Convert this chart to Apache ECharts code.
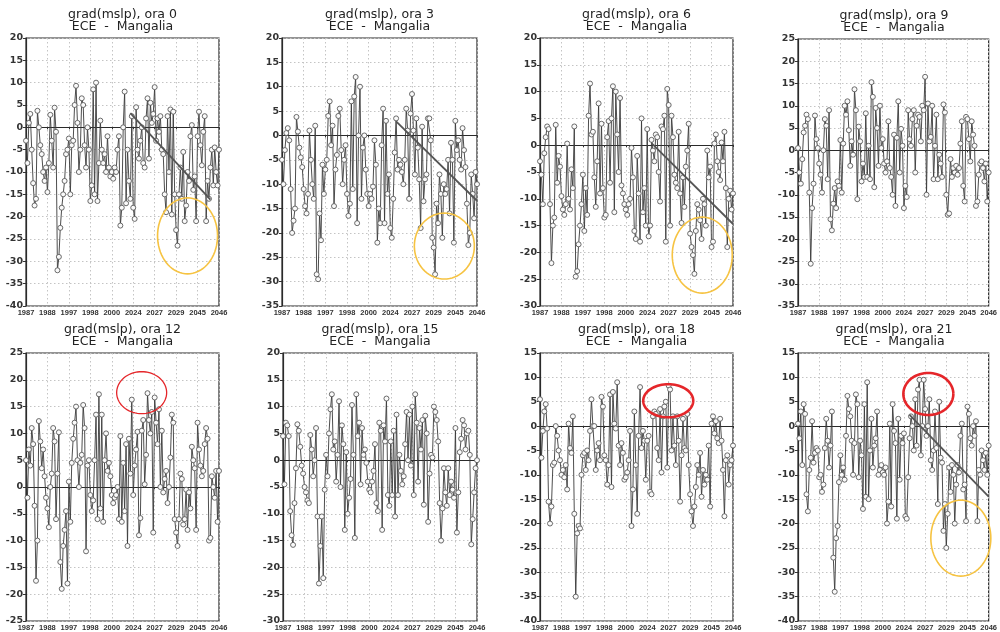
<!DOCTYPE html>
<html><head><meta charset="utf-8">
<script src="https://cdn.jsdelivr.net/npm/echarts@6/dist/echarts.min.js"></script>
<style>html,body{margin:0;padding:0;background:#fff}#c{width:1000px;height:632px}</style>
</head><body><div id="c"></div><script>
const xLabels = ['1987','1988','1997','1998','2000','2024','2027','2029','2045','2046'];
const titles = ['grad(mslp), ora 0','grad(mslp), ora 3','grad(mslp), ora 6','grad(mslp), ora 9',
  'grad(mslp), ora 12','grad(mslp), ora 15','grad(mslp), ora 18','grad(mslp), ora 21'];
const subtitle = 'ECE  -  Mangalia';
const yMin = [-40,-35,-30,-35,-25,-30,-40,-40];
const yMax = [20,20,20,25,25,20,15,15];

const ora0 = [-3,-8,1,3,-5,-12.5,-17.5,-16,3.7,0,-4,-6,-10,-12,-9,
 -14.5,-8,2.8,-3,-9,4.4,-1,-32,-29,-22.5,-18,-15,-12,-6,-5,
 -2.5,-15,-4,-3,5,9.3,1,-10,-5,6.5,5,-4,-9,0,-5,
 -16.5,-13,8.5,-15,10,-16.5,-8,1.5,-5,-8,-6,-10,-2,-9,-11,
 -10,-11.5,-9,-10,-5,-2,-22,-18,0,8,-17,-5,-12,-16,2.5,
 -18,-20.5,4.5,-5,-7,-3,0,-8,-9,2,6.5,-7,5.5,1,3,
 9,-3,2,-1,2.5,-5,-6,-15,-19,2.5,-10,4,-19.5,3.5,-15,
 -23,-26.5,-15,-9,-16,-5.5,-21,-17.5,-10,-12,-2,0.5,-14,-11,-21,
 -2,3.5,-4,-8.5,-1,2.5,-21,-12,-16,-9,-5,-13,-4.5,-10,-13,-5];
const ora3 = [-5,-10,-3,0.5,1.5,-1,-11,-20,-17.5,-15,3.8,0.8,-2.5,-4.5,-6.5,
 -11,-14.5,-16,-12,1,-5,-10,-13,2,-28.5,-29.5,-16,-21.5,-6,-12,
 -7,-5,4,7,-2,2,-14.5,-7,-4,4,5.5,-3,-10,-5,-2,
 -12,-16.5,-14,7,-11,8,12,-18,0,10,-13,-2.5,0,-7,-12,
 -14.5,-12,-13,-10.5,-1,-6,-22,-15,-18,-2,5.5,-18,3,-12,-8,
 -19,-21,-13,-3.5,3.5,-7,-5,-6,-7.5,-10,-5,5.5,1,-13,4.5,
 8.5,1,-8,3.5,-2.5,-9,-19,1.8,-13.5,-9,-8,3.5,3.5,-1,-21,
 -23,-28.5,-14,-18,-8,-12,-21,-10,-12,-11,-5,-16,-1.5,-5,-22,
 3,-3,-1,-5,-7,1.5,-3,-6.5,-14,-22.5,-20,-8,-12,-17,-7.5,-10];
const ora6 = [-3,-5.5,-11,-1.5,1.5,3.5,3,-11,-22,-15,-13.5,3.8,-7,-2,-4,
 -9.5,-12,-13,-11,0.3,-10,-12,-4.5,-8,3.5,-24.5,-23.5,-18.5,-15,-11,
 -5.5,-16,-8,-13,5.5,11.5,2,2.5,-6,-11.5,-3,7.8,-9,4,-8,
 -13.5,-13,1.5,4.5,-7,5,11,-12.5,10,2,-5,8.8,-7.5,-9,-11,
 -12,-13,-11,-10,-0.5,-6,-16,-17.5,-2,-9,-18,5,-12.5,-8,-15,
 3,-17,-15,1,-1,-3,2,1.5,-5,-10.5,3.5,3,5.5,-18,10.5,
 7.5,-15,5.5,1.5,-5.5,-7,-8,2.5,-9,-14.5,-6,-11.5,-4,-1,4,
 -16.5,-19,-20.5,-24,-16,-11,-12,-14,-17.5,-10,-11,-15,-1,-6,-4,
 -19,-18,0.3,2,-3,-5,-6.5,0.5,-3,2.5,-8,-19,-10,-8.5,-12,-9];
const ora9 = [0.5,-5,-7.5,-2,4,5.5,8,7,-9.5,-25.5,-13,-7.5,7.8,2.5,0.5,
 -3,-5.5,-9.5,0,7,5.5,-6.5,9,-15.5,-18,-12,-8.5,-13,-7,-8,
 2.3,-9.5,1.5,10,8,11,4.5,-3.5,2,-1,13.7,9,-11,5.3,2,
 -7,-3,-6,8.3,-6,1,-6.5,15.3,12,-8.3,9.5,5,-3.5,10,0.5,
 2.5,-3,-5,-2.5,6.5,-4,-6,-10,3.5,-12.5,2.8,11,-5,4.8,1,
 -13,-8,-10.5,9,2.5,1,7,9,-5,5.5,8,7.5,2,10,9,
 16.5,-10,10.5,2,3,10,-6.5,1,8,-6.5,-1,-3,-6,10.3,8.5,
 -10,-14.5,-14.2,-2,-6,-4,-5,-3.5,-5.5,-4,1.5,6.5,-8,-11.5,7.5,
 7,2.5,-2.5,6.5,3.5,1,-12.5,-11.5,-5.5,-3,-2.5,-4,-7,-3,-11.5,-5];
const ora12 = [5,-2,7,4,11,8,-3.5,-17.5,-10,12.3,8.5,3.5,7,2,-2,
 -4,-7.5,0,2.5,11,8.5,-6,2.5,10.2,-14,-19,-11,-8,-4.5,-18,
 1,-6.5,4.5,9,12,15,5,0,4.5,6,15.3,11,-12,4,5,
 -1.5,-4.5,-2.5,5,13.5,-6,17.3,-4,13.5,-6.5,5,10,3,4.5,2,
 -1.5,-3,-2,-1.5,0,-6,9.5,-6.5,4.5,-4.5,8,-11,9,2.5,16.3,
 -1.5,4,7,10.3,-9,-5.8,10.5,12.5,0.5,6,17.5,12.5,10,14,-8.5,
 16.7,12,8,14.5,0,10.5,-1,1.5,3,-3,0,5.5,13.5,12,-6,
 -8.5,-11,-6,2.5,1.5,-7,-6,-0.5,-8,-1,-4,7.5,5,3.5,-8,
 12,7,4,2,3,8,11,9,-10,-9.5,2,0,-2,3,-6.5,3];
const ora15 = [4.5,-4.5,7,6.5,4.5,-9.5,-14,-15.8,-8,-1.5,6.7,5.5,2.5,-1,-2.5,
 -5,-6,-7.5,-8,4.7,2,-3,0,6,-10.5,-23,-16,-10.5,-22,-5.5,
 1,-3,5,9.5,12.3,2,3.5,-4,1,11,-5,6.5,3,-13,1.5,
 -10,-7,-3.5,10.3,1,-14.5,12.3,4.5,7,-4.5,6,1,2,-0.5,-4,
 -5.5,-6,-4,-2,3,-8,-9.5,7,5.5,-13,6.5,3.5,11.5,-6.5,-8.5,
 3.5,-6.5,5.5,-10.5,8.5,-6.5,1,-2,-4.5,-3,3,9,0,8.5,-1,
 10,-6.5,12.3,7,-4,6,2,7.5,-8.3,8.3,5,-11.5,-2.5,1,0.5,
 10,9,7.5,3.5,-8,-15,-9,-1.5,-6,-8.5,-1.5,-6.5,-4,-5.5,-7,
 6,-13.5,-6,1.5,4,7.5,6.5,2,5,5.5,1,-15.7,-11,-6,-1.5,0];
const ora18 = [5.5,-6.5,-1,3,4.5,-0.5,-15.5,-20,-16.5,-8,-7.5,0,-2,-5,-7,
 -10,-9,-10.5,-8,-13,0.5,-4.5,-5.5,2,-18,-35,-22,-20.5,-21,-10,
 -6,-5.5,-9,-5,-7,-1,5.5,0,0,-9,-5,-3.5,-7,6,4,
 -6,-7,-12,-8,6.5,-12.5,7,0.5,-0.5,9,-4,-8,-3.5,-5.5,-11,
 -10.5,-9.5,-7,-1,-20.5,-13,3,-8,-18,-2,8,-4.5,-1,-3,-11,
 -3,-2,-13.5,-14,2,3,2.5,-4.5,-7,3.5,-9.5,2,4,5,-8.5,
 8.3,7.5,-5,2,-4,-8,2,-3,-15.5,-6,1.5,-4.5,-5,2.5,-8,
 -14,-17.5,-20.5,-16.5,-12.5,-8,-10,-5.5,-14.5,-9,-12,-10,-11,-4,-16.5,
 0.5,2,-1.5,1,-2.5,-3.5,1.5,-3,-9,-18.5,-7,-6,-12,-8,-7,-4];
const ora21 = [0.5,-2.5,3,-8,4.5,2.5,-14,-17.5,-9,-6.5,1,-7.5,-5.5,-4.5,-5,
 -10.5,-10,-13.5,-12,-4.5,1.5,-3,-8.5,-4,3,-27,-34,-23,-20.5,-11.5,
 -6,-10,-8.5,-11,-2,6.2,3.5,2,-3,-10,-3.5,6.5,4.5,-10.5,-3,
 -6,-17,4.5,-14.5,9,-15,-5,1.5,-8.5,-4,-2.5,3,-10,-9,-8,
 -9.5,-10,-8.5,-20,-15.5,0.5,-16.5,4.5,-1,-3.5,-19,1.5,-11,-2,-3.5,
 -1.5,-18.5,-19,-10.5,-2.5,2,0,-5,5.5,-4,7.5,9.5,-6,0,9.5,
 3.5,-2,0,5.5,-7,-9,-5,3,-4.5,-16,5,-6.5,-7.5,-21.5,-16,
 -25,-18,-8.5,-13.5,-8,-10,-20,-12,-8,-9.5,-2,0.5,-13,-12,-19.5,
 4,2.5,-2.5,-4,0,-2,1,-19.5,-9,-10,-5,-7,-9,-5.5,-10,-4];

const trend0 = [[73, 3.2], [129, -16.2]];
const trend3 = [[79, 2.9], [135, -13.4]];
const trend6 = [[78, 0.4], [135, -14.7]];
const trend21 = [[79, 2.3], [135, -14.5]];

// annotation ellipses: [panel, centerX (index), centerY (value)]
const yellowMarks = [[0, 113, -24.3], [1, 112.4, -22.7], [2, 113.5, -20.5], [7, 115.3, -23]];
const redMarks = [[4, 80.9, 17.6], [6, 89.7, 5.2], [7, 92.3, 6.6]];

const seriesData = [ora0, ora3, ora6, ora9, ora12, ora15, ora18, ora21];
const trends = [trend0, trend3, trend6, null, null, null, null, trend21];

const layout = [
  {left:26, top:38, width:193, height:268},
  {left:282, top:38, width:195, height:268},
  {left:540, top:38, width:193, height:268},
  {left:798, top:39, width:192, height:267},
  {left:26, top:353, width:193, height:269},
  {left:283, top:353, width:194, height:269},
  {left:540, top:353, width:193, height:269},
  {left:798, top:353, width:192, height:269}
];
const STEP = 15, NMAX = 135;

const chart = echarts.init(document.getElementById('c'), null, {renderer:'canvas'});
const grid = [], xAxis = [], yAxis = [], series = [], graphic = [];
layout.forEach((g, i) => {
  grid.push({left:g.left, top:g.top, width:g.width, height:g.height, show:true,
    borderColor:'#2a2a2a', borderWidth:1.2, backgroundColor:'#fff'});
  xAxis.push({type:'value', gridIndex:i, min:0, max:NMAX, interval:STEP,
    axisLine:{show:true, lineStyle:{color:'#2a2a2a', width:1.2}},
    axisTick:{show:true, length:2, lineStyle:{color:'#333'}},
    axisLabel:{fontSize:7.5, fontWeight:'bold', color:'#333', margin:3,
      fontFamily:'Liberation Sans', formatter:v => xLabels[Math.round(v/STEP)] || ''},
    splitLine:{show:true, lineStyle:{color:'#c4c4c4', type:[1.5,2.5], width:1}}});
  yAxis.push({type:'value', gridIndex:i, min:yMin[i], max:yMax[i], interval:5,
    axisLine:{show:true, lineStyle:{color:'#2a2a2a', width:1.2}},
    axisTick:{show:true, length:3, lineStyle:{color:'#333'}},
    axisLabel:{fontSize:9.5, fontWeight:'bold', color:'#333', margin:3, fontFamily:'DejaVu Sans'},
    splitLine:{show:true, lineStyle:{color:'#c4c4c4', type:[1.5,2.5], width:1}}});
  series.push({type:'line', xAxisIndex:i, yAxisIndex:i, silent:true, animation:false,
    data: seriesData[i].map((v,k)=>[k,v]), symbol:'circle', symbolSize:5, showSymbol:true,
    lineStyle:{color:'#3a3a3a', width:0.9},
    itemStyle:{color:'#fafafa', borderColor:'#5a5a5a', borderWidth:0.9}, z:3});
  if (trends[i]) series.push({type:'line', xAxisIndex:i, yAxisIndex:i, silent:true, animation:false,
    data: trends[i], symbol:'none', lineStyle:{color:'#555', width:1.8}, z:4});
  const cx = g.left + g.width/2;
  graphic.push({type:'text', x:cx, y:g.top - 23, silent:true, style:{text:titles[i], align:'center', verticalAlign:'middle',
    font:'12.5px "DejaVu Sans"', fill:'#222'}});
  graphic.push({type:'text', x:cx, y:g.top - 11, silent:true, style:{text:subtitle, align:'center', verticalAlign:'middle',
    font:'12.5px "DejaVu Sans"', fill:'#222'}});
});
chart.setOption({animation:false, backgroundColor:'#fff', grid, xAxis, yAxis, series});

function ellipsePts(c, rx, ry) {
  const pts = [];
  for (let a = 0; a <= 72; a++) {
    const t = a / 72 * Math.PI * 2;
    pts.push([c[0] + rx*Math.cos(t), c[1] + ry*Math.sin(t)]);
  }
  return pts;
}
const ySize = {0:38, 1:33, 2:38, 7:38};
yellowMarks.forEach(m => {
  const c = chart.convertToPixel({gridIndex:m[0]}, [m[1], m[2]]);
  graphic.push({type:'polyline', silent:true, z:100, shape:{points: ellipsePts(c, 30, ySize[m[0]])},
    style:{stroke:'#F6C342', lineWidth:1.6, fill:null}});
});
const redStyle = {4:{rx:25, ry:21, w:1.3}, 6:{rx:25, ry:16.5, w:2.6}, 7:{rx:25, ry:21, w:2.6}};
redMarks.forEach(m => {
  const c = chart.convertToPixel({gridIndex:m[0]}, [m[1], m[2]]);
  const s = redStyle[m[0]];
  graphic.push({type:'polyline', silent:true, z:100, shape:{points: ellipsePts(c, s.rx, s.ry)},
    style:{stroke:'#E5262A', lineWidth:s.w, fill:null}});
});
chart.setOption({graphic});
</script></body></html>
